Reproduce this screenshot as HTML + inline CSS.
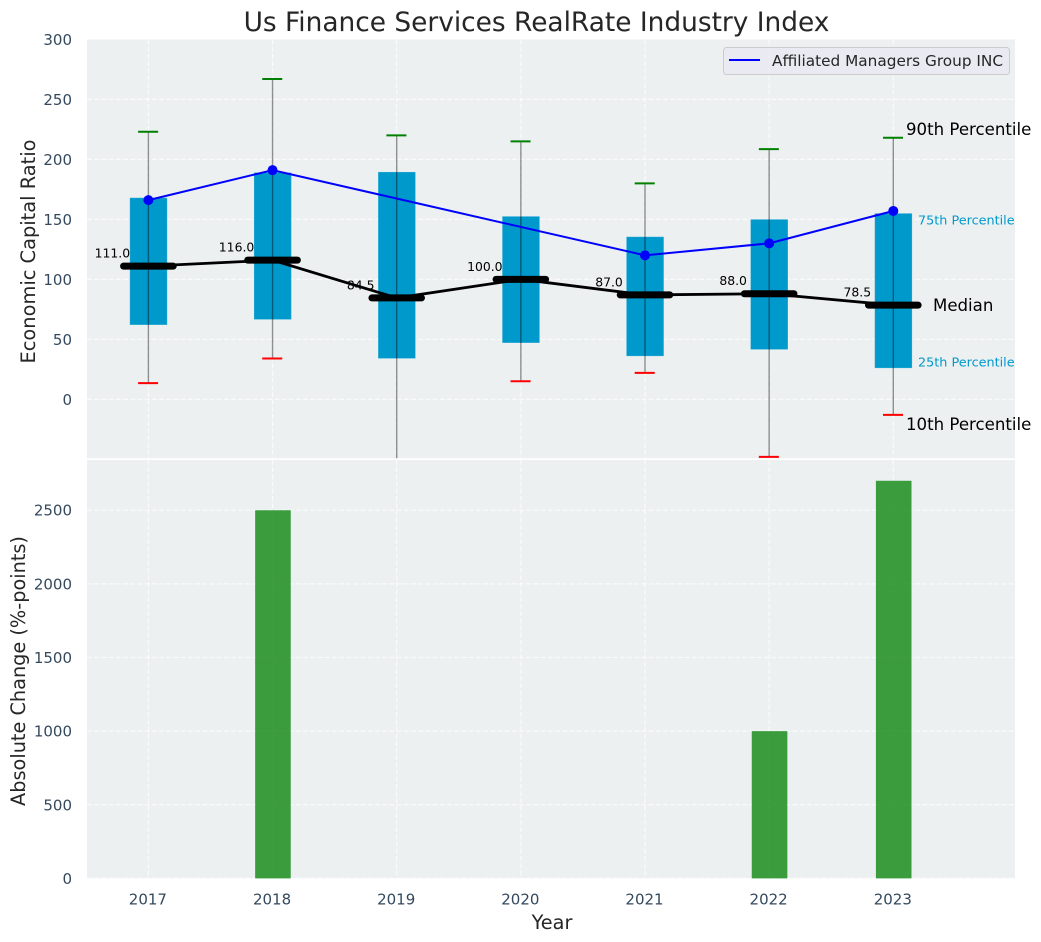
<!DOCTYPE html>
<html>
<head>
<meta charset="utf-8">
<title>Us Finance Services RealRate Industry Index</title>
<style>
html,body{margin:0;padding:0;background:#fff;width:1041px;height:942px;overflow:hidden}
svg{display:block}
text{font-family:"DejaVu Sans","Liberation Sans",sans-serif}
</style>
</head>
<body>
<svg id="chart" xmlns="http://www.w3.org/2000/svg" width="1041" height="942" viewBox="0 0 1041 942">
  <defs>
    <clipPath id="top-clip"><rect x="87" y="39.5" width="928" height="418.8"/></clipPath>
  </defs>
  <rect x="87" y="39.5" width="928" height="418.8" fill="#ecf0f1"/>
  <rect x="87" y="460" width="928" height="418.4" fill="#ecf0f1"/>
  <g id="grid"></g>
  <g id="top-marks" clip-path="url(#top-clip)"></g>
  <g id="bottom-marks"></g>
  <g id="labels"></g>
  <g id="ticks"></g>
  <text x="536.5" y="31" text-anchor="middle" font-size="26.4" fill="#262626">Us Finance Services RealRate Industry Index</text>
  <text transform="translate(35,251.5) rotate(-90)" text-anchor="middle" font-size="19.4" fill="#262626">Economic Capital Ratio</text>
  <text transform="translate(25,671) rotate(-90)" text-anchor="middle" font-size="19.3" fill="#262626">Absolute Change (%-points)</text>
  <text x="552" y="929" text-anchor="middle" font-size="19.3" fill="#262626">Year</text>
  <g>
    <rect x="723.5" y="47.5" width="286" height="27" rx="3" fill="#eaeaf2" fill-opacity="0.9" stroke="#cccccc"/>
    <line x1="729" x2="760" y1="60" y2="60" stroke="#0000ff" stroke-width="2"/>
    <text x="772" y="66" font-size="15.3" fill="#262626">Affiliated Managers Group INC</text>
  </g>
  <g>
    <text x="906" y="135" font-size="16.6" fill="#000">90th Percentile</text>
    <text x="918" y="224.5" font-size="12.8" fill="#0099cc">75th Percentile</text>
    <text x="933" y="311" font-size="16.6" fill="#000">Median</text>
    <text x="918" y="366.5" font-size="12.8" fill="#0099cc">25th Percentile</text>
    <text x="906" y="430" font-size="16.6" fill="#000">10th Percentile</text>
  </g>
</svg>
<script>
const years = [2017, 2018, 2019, 2020, 2021, 2022, 2023];
const p90 = [223, 267, 220, 215, 180, 208.5, 218];
const p75 = [168, 189, 189.5, 152.5, 135.5, 150, 155];
const medians = [111, 116, 84.5, 100, 87, 88, 78.5];
const p25 = [62, 66.5, 34, 47, 36, 41.5, 26];
const p10 = [13.5, 34, -60, 15, 22, -48, -13];
const company = [166, 191, null, null, 120, 130, 157];
const changes = [0, 2500, 0, 0, 0, 1000, 2700];
const topTicks = [0, 50, 100, 150, 200, 250, 300];
const bottomTicks = [0, 500, 1000, 1500, 2000, 2500];

const NS = 'http://www.w3.org/2000/svg';
function x(year) { return 148.4 + (year - 2017) * 124.15; }
function yTop(v) { return 399.3 - v * 1.1997; }
function yBottom(v) { return 878.4 - v * 0.14727; }
function make(parent, tag, attrs, content) {
  const el = document.createElementNS(NS, tag);
  for (const k in attrs) el.setAttribute(k, attrs[k]);
  if (content !== undefined) el.textContent = content;
  parent.appendChild(el);
  return el;
}
const grid = document.getElementById('grid');
const topMarks = document.getElementById('top-marks');
const bottomMarks = document.getElementById('bottom-marks');
const labels = document.getElementById('labels');
const ticks = document.getElementById('ticks');
const gridStyle = { stroke: '#ffffff', 'stroke-width': 1.2, 'stroke-dasharray': '5 2.2', 'stroke-opacity': 0.7 };

topTicks.forEach(function (t) {
  if (t < 300) {
    const g = make(grid, 'line', Object.assign({ x1: 87, x2: 1015, y1: yTop(t), y2: yTop(t) }, gridStyle));
    
    
  }
  const l = make(ticks, 'text', { x: 72, y: yTop(t) + 5.5, 'text-anchor': 'end', 'font-size': 15, fill: '#34495e' }, String(t));
  
  
});
bottomTicks.forEach(function (t) {
  const g = make(grid, 'line', Object.assign({ x1: 87, x2: 1015, y1: yBottom(t), y2: yBottom(t) }, gridStyle));
  
  
  const l = make(ticks, 'text', { x: 72, y: yBottom(t) + 5.5, 'text-anchor': 'end', 'font-size': 15, fill: '#34495e' }, String(t));
  
  
});
years.forEach(function (yr) {
  const a = make(grid, 'line', Object.assign({ x1: x(yr), x2: x(yr), y1: 39.5, y2: 458.3 }, gridStyle));
  
  
  const b = make(grid, 'line', Object.assign({ x1: x(yr), x2: x(yr), y1: 460, y2: 878.4 }, gridStyle));
  
  
  const l = make(ticks, 'text', { x: x(yr) - 0.5, y: 904.5, 'text-anchor': 'middle', 'font-size': 15, fill: '#34495e' }, String(yr));
  
  
});

years.forEach(function (yr, i) {
  const box = make(topMarks, 'rect', {
    x: x(yr) - 18.6, width: 37.4, y: yTop(p75[i]), height: yTop(p25[i]) - yTop(p75[i]),
    fill: '#0099cc', stroke: '#ffffff', 'stroke-opacity': 0.2, 'stroke-width': 1
  });
  
  
});
const medianPath = make(topMarks, 'polyline', {
  points: years.map(function (yr, i) { return x(yr) + ',' + yTop(medians[i]); }).join(' '),
  fill: 'none', stroke: '#000000', 'stroke-width': 2.8
});


years.forEach(function (yr, i) {
  const w = make(topMarks, 'line', {
    x1: x(yr), x2: x(yr), y1: yTop(p90[i]), y2: yTop(p10[i]),
    stroke: '#000000', 'stroke-opacity': 0.42, 'stroke-width': 1.4
  });
  
  
  const hi = make(topMarks, 'line', {
    x1: x(yr) - 10.3, x2: x(yr) + 9.7, y1: yTop(p90[i]), y2: yTop(p90[i]),
    stroke: '#008000', 'stroke-width': 2
  });
  
  
  const lo = make(topMarks, 'line', {
    x1: x(yr) - 10.3, x2: x(yr) + 9.7, y1: yTop(p10[i]), y2: yTop(p10[i]),
    stroke: '#ff0000', 'stroke-width': 2
  });
  
  
  const m = make(topMarks, 'line', {
    x1: x(yr) - 24.8, x2: x(yr) + 24.8, y1: yTop(medians[i]), y2: yTop(medians[i]),
    stroke: '#000000', 'stroke-width': 7, 'stroke-linecap': 'round'
  });
  
  
  const t = make(labels, 'text', {
    x: x(yr) - 36, y: yTop(medians[i]) - 8.5, 'text-anchor': 'middle', 'font-size': 12.4, fill: '#000000'
  }, medians[i].toFixed(1));
  
  
});
const companyPoints = [];
years.forEach(function (yr, i) {
  if (company[i] !== null) companyPoints.push(x(yr) + ',' + yTop(company[i]));
});
const companyLine = make(topMarks, 'polyline', {
  points: companyPoints.join(' '), fill: 'none', stroke: '#0000ff', 'stroke-width': 2
});


years.forEach(function (yr, i) {
  if (company[i] === null) return;
  const c = make(topMarks, 'circle', { cx: x(yr), cy: yTop(company[i]), r: 5, fill: '#0000ff' });
  
  
});
years.forEach(function (yr, i) {
  if (!changes[i]) return;
  const b = make(bottomMarks, 'rect', {
    x: x(yr) - 17.4, width: 35.6, y: yBottom(changes[i]), height: yBottom(0) - yBottom(changes[i]),
    fill: '#008000', 'fill-opacity': 0.75
  });
  
  
});
</script>
</body>
</html>
